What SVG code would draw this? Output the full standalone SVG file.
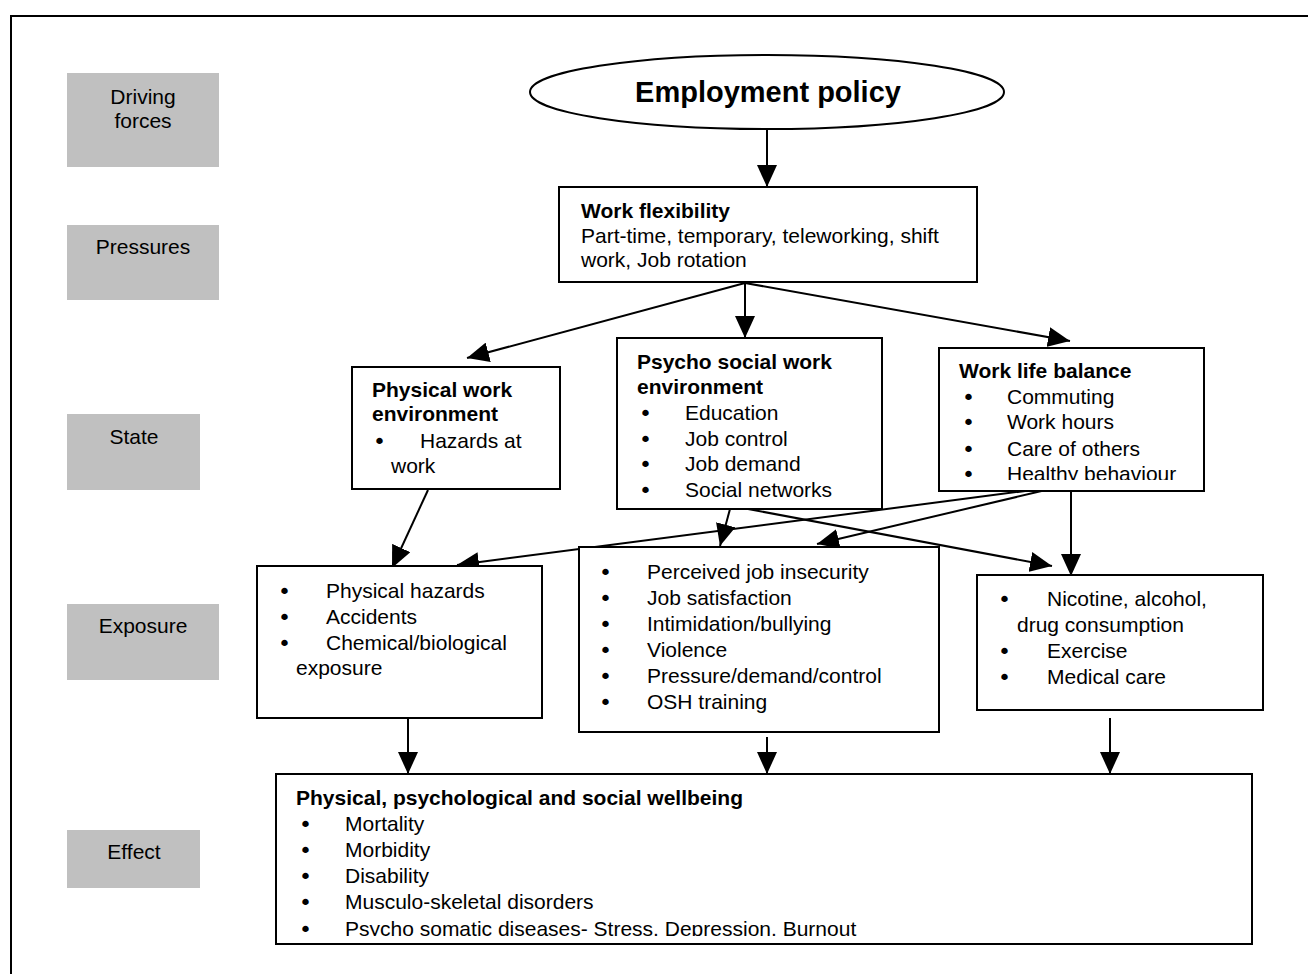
<svg xmlns="http://www.w3.org/2000/svg" width="1308" height="974" viewBox="0 0 1308 974">
  <style>
    text { font-family: "Liberation Sans", Arial, sans-serif; font-size: 21px; fill: #000; }
    .b { font-weight: bold; }
    .title { font-weight: bold; font-size: 29px; }
    .lbl { text-anchor: middle; }
    .bul { font-family: "DejaVu Sans", sans-serif; font-size: 22px; }
    .band { fill: #C0C0C0; stroke: none; }
    .box { fill: #fff; stroke: #000; stroke-width: 2; }
    .wire { stroke: #000; stroke-width: 2; fill: none; }
    .arr { marker-end: url(#head); }
  </style>
  <defs>
    <marker id="head" markerUnits="userSpaceOnUse" markerWidth="22" markerHeight="20" refX="22" refY="10" orient="auto">
      <path d="M0,0 L22,10 L0,20 Z" fill="#000"/>
    </marker>
    <clipPath id="clipWlb"><rect x="939" y="348" width="265" height="132"/></clipPath>
    <clipPath id="clipEffect"><rect x="276" y="774" width="976" height="162"/></clipPath>
  </defs>

  <rect width="1308" height="974" fill="#fff"/>
  <!-- page frame -->
  <rect x="11" y="16" width="1320" height="980" fill="none" stroke="#000" stroke-width="2"/>

  <!-- DPSEEA level labels -->
  <g id="level-driving">
    <rect class="band" x="67" y="73" width="152" height="94"/>
    <text class="lbl" x="143" y="104">Driving</text>
    <text class="lbl" x="143" y="128">forces</text>
  </g>
  <g id="level-pressures">
    <rect class="band" x="67" y="225" width="152" height="75"/>
    <text class="lbl" x="143" y="254">Pressures</text>
  </g>
  <g id="level-state">
    <rect class="band" x="67" y="414" width="133" height="76"/>
    <text class="lbl" x="134" y="444">State</text>
  </g>
  <g id="level-exposure">
    <rect class="band" x="67" y="604" width="152" height="76"/>
    <text class="lbl" x="143" y="633">Exposure</text>
  </g>
  <g id="level-effect">
    <rect class="band" x="67" y="830" width="133" height="58"/>
    <text class="lbl" x="134" y="859">Effect</text>
  </g>

  <!-- connectors -->
  <g id="connectors">
    <line class="wire arr" x1="767" y1="130" x2="767" y2="187"/>
    <line class="wire arr" x1="745" y1="283" x2="467" y2="358"/>
    <line class="wire arr" x1="745" y1="283" x2="745" y2="338"/>
    <line class="wire arr" x1="745" y1="283" x2="1070" y2="341"/>
    <line class="wire arr" x1="428" y1="490" x2="392" y2="568"/>
    <line class="wire arr" x1="1063" y1="486" x2="457" y2="565"/>
    <line class="wire arr" x1="1063" y1="486" x2="817" y2="544"/>
    <line class="wire arr" x1="730" y1="509" x2="720" y2="546"/>
    <line class="wire arr" x1="748" y1="509" x2="1052" y2="566"/>
    <line class="wire arr" x1="1071" y1="491" x2="1071" y2="576"/>
    <line class="wire arr" x1="408" y1="718" x2="408" y2="774"/>
    <line class="wire arr" x1="767" y1="737" x2="767" y2="774"/>
    <line class="wire arr" x1="1110" y1="718" x2="1110" y2="774"/>
  </g>

  <g id="employment-policy">
    <ellipse class="box" cx="767" cy="92" rx="237" ry="37"/>
    <text class="title lbl" x="768" y="102">Employment policy</text>
  </g>

  <g id="work-flexibility">
    <rect class="box" x="559" y="187" width="418" height="95"/>
    <text class="b" x="581" y="218">Work flexibility</text>
    <text x="581" y="243">Part-time, temporary, teleworking, shift</text>
    <text x="581" y="267">work, Job rotation</text>
  </g>

  <g id="physical-work-environment">
    <rect class="box" x="352" y="367" width="208" height="122"/>
    <text class="b" x="372" y="397">Physical work</text>
    <text class="b" x="372" y="421">environment</text>
    <text class="bul" x="373" y="449">•</text>
    <text x="420" y="448">Hazards at</text>
    <text x="391" y="473">work</text>
  </g>

  <g id="psycho-social-work-environment">
    <rect class="box" x="617" y="338" width="265" height="171"/>
    <text class="b" x="637" y="369">Psycho social work</text>
    <text class="b" x="637" y="394">environment</text>
    <text class="bul" x="639" y="421">•</text><text x="685" y="420">Education</text>
    <text class="bul" x="639" y="447">•</text><text x="685" y="446">Job control</text>
    <text class="bul" x="639" y="472">•</text><text x="685" y="471">Job demand</text>
    <text class="bul" x="639" y="498">•</text><text x="685" y="497">Social networks</text>
  </g>

  <g id="work-life-balance">
    <rect class="box" x="939" y="348" width="265" height="143"/>
    <g clip-path="url(#clipWlb)">
      <text class="b" x="959" y="378">Work life balance</text>
      <text class="bul" x="962" y="405">•</text><text x="1007" y="404">Commuting</text>
      <text class="bul" x="962" y="430">•</text><text x="1007" y="429">Work hours</text>
      <text class="bul" x="962" y="457">•</text><text x="1007" y="456">Care of others</text>
      <text class="bul" x="962" y="482">•</text><text x="1007" y="481">Healthy behaviour</text>
    </g>
  </g>

  <g id="physical-exposure">
    <rect class="box" x="257" y="566" width="285" height="152"/>
    <text class="bul" x="278" y="599">•</text><text x="326" y="598">Physical hazards</text>
    <text class="bul" x="278" y="625">•</text><text x="326" y="624">Accidents</text>
    <text class="bul" x="278" y="651">•</text><text x="326" y="650">Chemical/biological</text>
    <text x="296" y="675">exposure</text>
  </g>

  <g id="psychosocial-exposure">
    <rect class="box" x="579" y="547" width="360" height="185"/>
    <text class="bul" x="599" y="580">•</text><text x="647" y="579">Perceived job insecurity</text>
    <text class="bul" x="599" y="606">•</text><text x="647" y="605">Job satisfaction</text>
    <text class="bul" x="599" y="632">•</text><text x="647" y="631">Intimidation/bullying</text>
    <text class="bul" x="599" y="658">•</text><text x="647" y="657">Violence</text>
    <text class="bul" x="599" y="684">•</text><text x="647" y="683">Pressure/demand/control</text>
    <text class="bul" x="599" y="710">•</text><text x="647" y="709">OSH training</text>
  </g>

  <g id="lifestyle-exposure">
    <rect class="box" x="977" y="575" width="286" height="135"/>
    <text class="bul" x="998" y="607">•</text><text x="1047" y="606">Nicotine, alcohol,</text>
    <text x="1017" y="632">drug consumption</text>
    <text class="bul" x="998" y="659">•</text><text x="1047" y="658">Exercise</text>
    <text class="bul" x="998" y="685">•</text><text x="1047" y="684">Medical care</text>
  </g>

  <g id="wellbeing">
    <rect class="box" x="276" y="774" width="976" height="170"/>
    <g clip-path="url(#clipEffect)">
      <text class="b" x="296" y="805">Physical, psychological and social wellbeing</text>
      <text class="bul" x="299" y="832">•</text><text x="345" y="831">Mortality</text>
      <text class="bul" x="299" y="858">•</text><text x="345" y="857">Morbidity</text>
      <text class="bul" x="299" y="884">•</text><text x="345" y="883">Disability</text>
      <text class="bul" x="299" y="910">•</text><text x="345" y="909">Musculo-skeletal disorders</text>
      <text class="bul" x="299" y="937">•</text><text x="345" y="936">Psycho somatic diseases- Stress. Depression. Burnout</text>
    </g>
  </g>
</svg>
